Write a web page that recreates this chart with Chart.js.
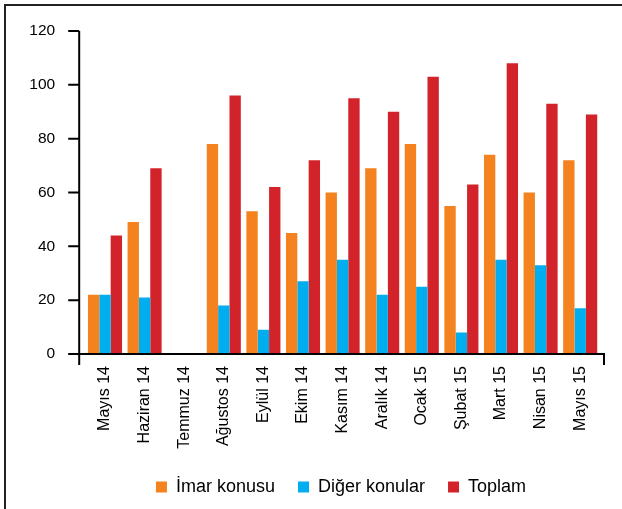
<!DOCTYPE html>
<html>
<head>
<meta charset="utf-8">
<script src="https://cdn.jsdelivr.net/npm/chart.js@4"></script>
<style>
    html, body { margin: 0; padding: 0; background: #fff; }
    #wrap { position: relative; width: 622px; height: 509px; }
    #frame { position: absolute; left: 4px; top: 4px; right: -4px; bottom: -4px; border-top: 2px solid #222; border-left: 2px solid #222; }
</style>
</head>
<body>
<div id="wrap">
    <div id="frame"></div>
    <canvas id="chart" width="622" height="509"></canvas>
</div>
<script>
const months = ['Mayıs 14', 'Haziran 14', 'Temmuz 14', 'Ağustos 14', 'Eylül 14', 'Ekim 14', 'Kasım 14',
    'Aralık 14', 'Ocak 15', 'Şubat 15', 'Mart 15', 'Nisan 15', 'Mayıs 15'];
const imar = [22, 49, 0, 78, 53, 45, 60, 69, 78, 55, 74, 60, 72];
const diger = [22, 21, 0, 18, 9, 27, 35, 22, 25, 8, 35, 33, 17];
const toplam = [44, 69, 0, 96, 62, 72, 95, 90, 103, 63, 108, 93, 89];
const yTicks = [0, 20, 40, 60, 80, 100, 120];

const FONT = 'Liberation Sans, Arial, sans-serif';

// axis lines and y labels drawn by hand so they can stick out past the bars
const axisLines = {
    id: 'axisLines',
    afterDatasetsDraw(chart) {
        const ctx = chart.ctx;
        const area = chart.chartArea;
        const y = chart.scales.y;
        const x0 = area.left - 6;
        const x1 = area.right + 4;
        const zero = y.getPixelForValue(0);
        ctx.save();
        ctx.strokeStyle = '#000';
        ctx.lineWidth = 2;
        ctx.beginPath();
        ctx.moveTo(x0, y.getPixelForValue(120));
        ctx.lineTo(x0, zero + 11);
        ctx.moveTo(x0, zero);
        ctx.lineTo(x1, zero);
        ctx.lineTo(x1, zero + 11);
        yTicks.forEach(v => {
            const py = y.getPixelForValue(v);
            ctx.moveTo(x0 - 11, py);
            ctx.lineTo(x0, py);
        });
        ctx.stroke();

        ctx.fillStyle = '#000';
        ctx.font = '15.5px ' + FONT;
        ctx.textAlign = 'right';
        ctx.textBaseline = 'middle';
        yTicks.forEach(v => {
            ctx.fillText(String(v), x0 - 24, y.getPixelForValue(v));
        });
        ctx.restore();
    }
};

const ctx = document.getElementById('chart').getContext('2d');

const chart = new Chart(ctx, {
    type: 'bar',
    data: {
        labels: months,
        datasets: [
            { label: 'İmar konusu', data: imar, backgroundColor: '#F4821F' },
            { label: 'Diğer konular', data: diger, backgroundColor: '#00AEEF' },
            { label: 'Toplam', data: toplam, backgroundColor: '#D2232A' }
        ]
    },
    options: {
        responsive: false,
        animation: false,
        layout: {
            padding: { left: 82, right: 22, top: 31, bottom: 3 }
        },
        datasets: {
            bar: { categoryPercentage: 0.86, barPercentage: 1 }
        },
        scales: {
            x: {
                grid: { display: false, drawTicks: false },
                border: { display: false },
                ticks: {
                    minRotation: 90,
                    maxRotation: 90,
                    padding: 12,
                    color: '#000',
                    font: { family: FONT, size: 16 }
                },
                afterFit: (s) => { s.height = 101; }
            },
            y: {
                min: 0,
                max: 120,
                grid: { display: false, drawTicks: false },
                border: { display: false },
                ticks: { display: false, stepSize: 20 },
                afterFit: (s) => { s.width = 3.2; }
            }
        },
        plugins: {
            legend: {
                position: 'bottom',
                labels: {
                    boxWidth: 11,
                    boxHeight: 11,
                    padding: 23,
                    color: '#000',
                    font: { family: FONT, size: 18 }
                }
            },
            tooltip: { enabled: false }
        }
    },
    plugins: [axisLines]
});
</script>
</body>
</html>
